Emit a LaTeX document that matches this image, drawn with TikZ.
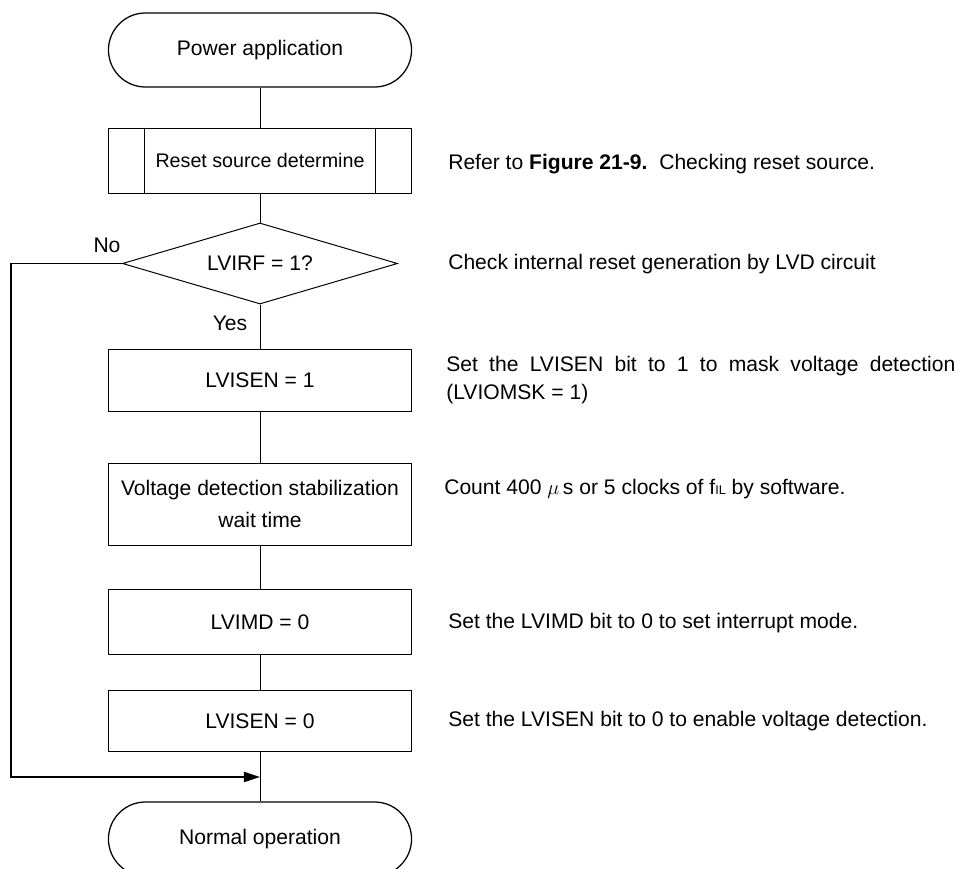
\documentclass[tikz,border=0pt]{standalone}
\usepackage{fontspec}
\setmainfont{Liberation Sans}
\usetikzlibrary{calc,positioning,shapes.geometric,arrows.meta}

\begin{document}
\begin{tikzpicture}[x=0.025cm, y=-0.025cm,
    >={Triangle[length=0.4cm,width=0.25cm]},
    every node/.style={font=\fontsize{15}{20}\selectfont},
    terminal/.style={draw, line width=0.9pt, rectangle, rounded corners=0.925cm,
        minimum width=7.575cm, minimum height=1.85cm},
    process/.style={draw, line width=0.7pt, minimum width=7.55cm, inner sep=0pt},
    decision/.style={draw, line width=0.7pt, diamond, aspect=3.4, minimum width=6.875cm,
        minimum height=2.025cm, inner sep=0pt},
    note/.style={anchor=west, inner sep=0pt, align=left}]
    \useasboundingbox (0,0) rectangle (960,868);

    % Start and reset source
    \node[terminal] (pa) at (260,50) {Power application};
    \node[process, minimum width=7.575cm, minimum height=1.625cm,
        font=\fontsize{14}{17}\selectfont] (rsd) at (260,160.5) {Reset source determine};
    \draw[line width=0.7pt] ([xshift=0.925cm]rsd.north west) -- ([xshift=0.925cm]rsd.south west);
    \draw[line width=0.7pt] ([xshift=-0.925cm]rsd.north east) -- ([xshift=-0.925cm]rsd.south east);

    % Decision
    \node[decision] (dec) at (260,263.5) {LVIRF = 1?};
    \node (no) at (107,245) {No};
    \node (yes) at (230,323) {Yes};

    % Steps
    \node[process, minimum height=1.55cm] (b1) at (260,380) {LVISEN = 1};
    \node[process, minimum height=2.05cm, align=center,
        font=\fontsize{15}{23}\selectfont] (b2) at (260,504) {Voltage detection stabilization\\wait time};
    \node[process, minimum height=1.625cm] (b3) at (260,622) {LVIMD = 0};
    \node[process, minimum height=1.525cm] (b4) at (260,721) {LVISEN = 0};
    \node[terminal] (norm) at (260,839) {Normal operation};

    % Main flow
    \draw[line width=0.7pt] (pa) -- (rsd);
    \draw[line width=0.7pt] (rsd) -- (dec);
    \draw[line width=0.7pt] (dec) -- (b1);
    \draw[line width=0.7pt] (b1) -- (b2);
    \draw[line width=0.7pt] (b2) -- (b3);
    \draw[line width=0.7pt] (b3) -- (b4);
    \draw[line width=0.7pt] (b4) -- (norm);

    % No branch
    \coordinate (lft) at (11,777);
    \coordinate (join) at (260,777);
    \draw[->, line width=1.3pt] (dec.west) -| (lft) -- (join);

    % Notes
    \node[note] (n1) at (448,164) {Refer to \textbf{Figure 21-9.}\ \ Checking reset source.};
    \node[note] (n2) at (448,264) {Check internal reset generation by LVD circuit};
    \node[note, text width=12.725cm, align=justify] (n3) at (446,380)
        {Set the LVISEN bit to 1 to mask voltage detection (LVIOMSK = 1)};
    \node[note] (n4) at (444,489) {Count 400 $\mu$\,s or 5 clocks of f{\fontsize{9}{9}\selectfont IL} by software.};
    \node[note] (n5) at (448,623) {Set the LVIMD bit to 0 to set interrupt mode.};
    \node[note] (n6) at (448,721) {Set the LVISEN bit to 0 to enable voltage detection.};
\end{tikzpicture}
\end{document}
